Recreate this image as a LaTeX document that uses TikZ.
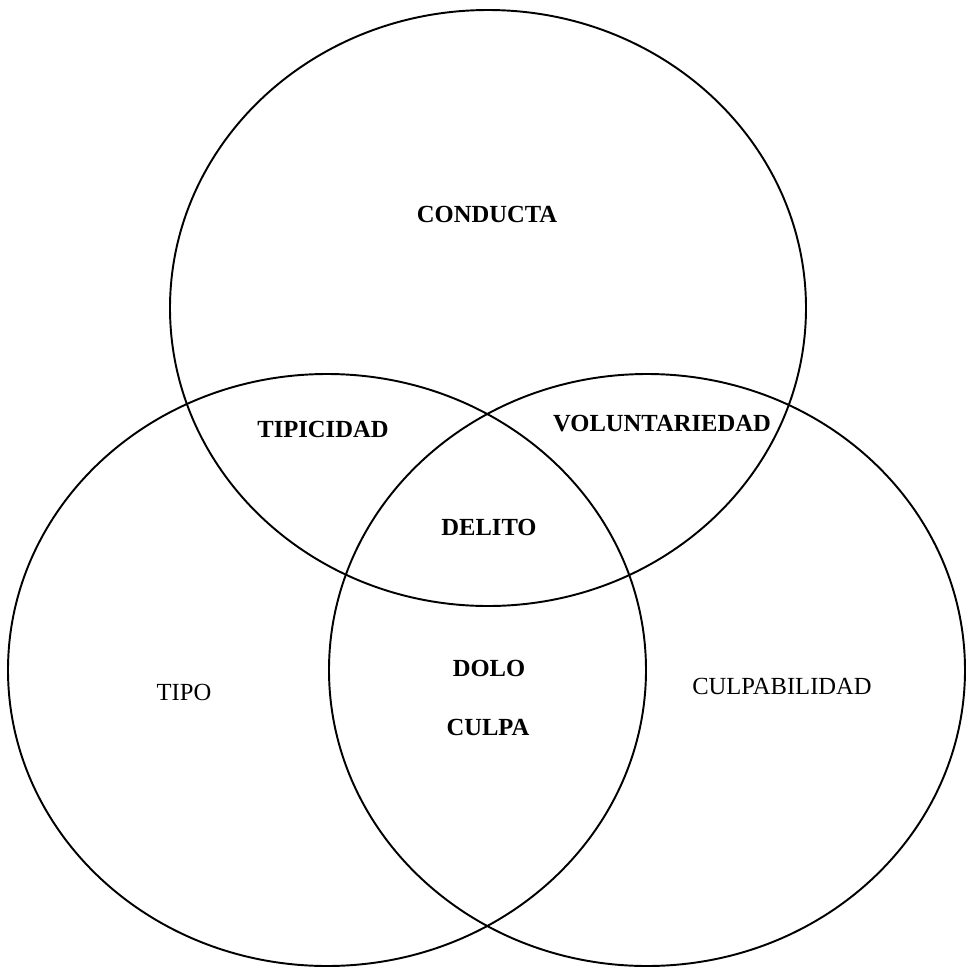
\documentclass[tikz,border=0pt]{standalone}
\usepackage{fontspec}
\setmainfont{Liberation Serif}
\begin{document}
\begin{tikzpicture}[x=0.02cm, y=-0.02cm, line width=1.1pt,
    txt/.style={font=\fontsize{14}{16}\selectfont},
    btxt/.style={font=\fontsize{14}{16}\selectfont\bfseries}]
                \useasboundingbox (0,0) rectangle (967,975);
                % Draw the three sets
                \draw (488,308) ellipse [x radius=318, y radius=298];
                \draw (327,670) ellipse [x radius=319, y radius=296];
                \draw (647,670) ellipse [x radius=318, y radius=296];

                \node[btxt] (conducta) at (487,214) {CONDUCTA};
                \node[btxt] (tipicidad) at (323,429) {TIPICIDAD};
                \node[btxt] (voluntariedad) at (662,424) {VOLUNTARIEDAD};
                \node[btxt] (delito) at (489,527) {DELITO};
                \node[btxt] (dolo) at (489,668) {DOLO};
                \node[btxt] (culpa) at (488,727) {CULPA};

                \node[txt] (tipo) at (184,692) {TIPO};
                \node[txt] (culpabilidad) at (782,686) {CULPABILIDAD};
            \end{tikzpicture}
\end{document}
